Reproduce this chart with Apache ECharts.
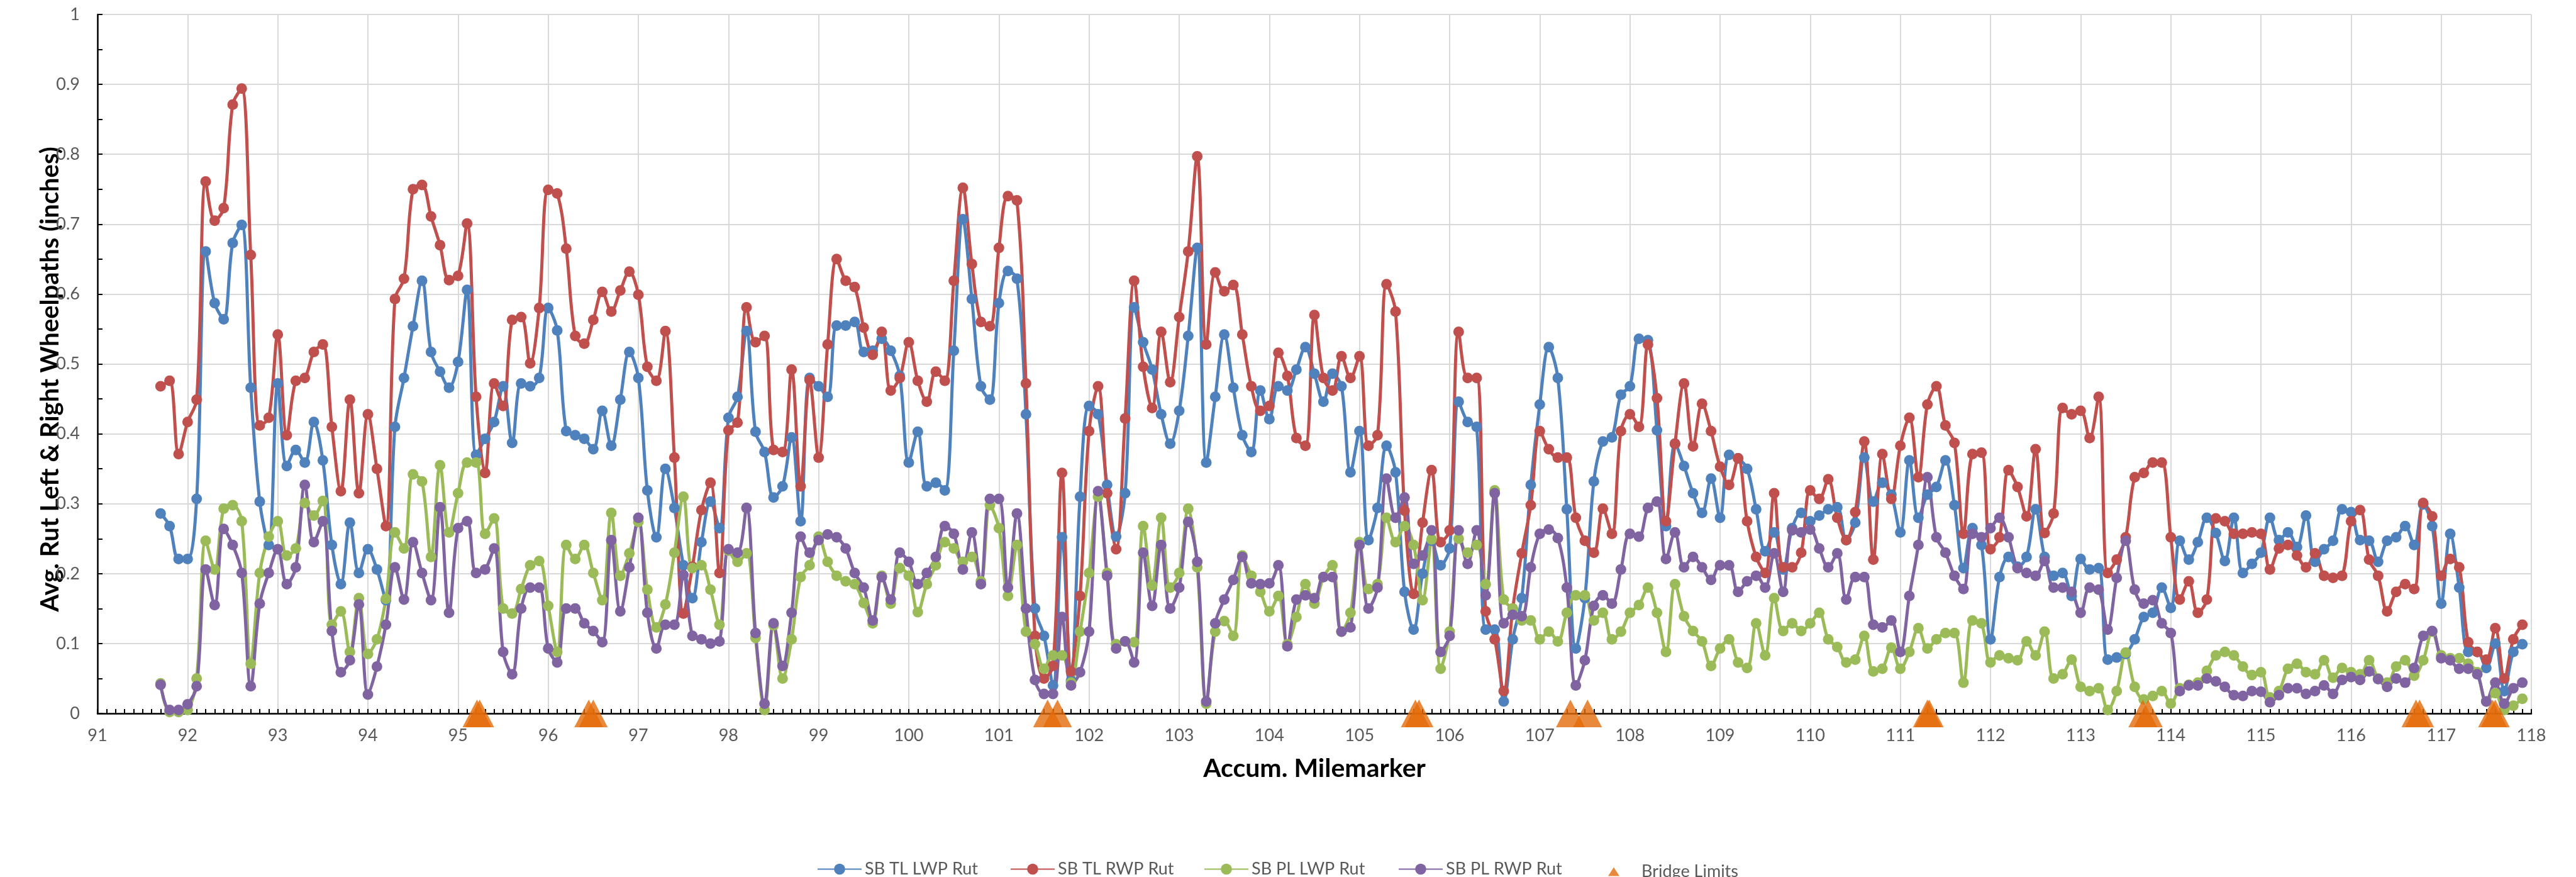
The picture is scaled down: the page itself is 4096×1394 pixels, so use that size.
<!DOCTYPE html>
<html>
<head>
<meta charset="utf-8">
<title>SB Rut by Milemarker</title>
<script src="https://cdn.jsdelivr.net/npm/echarts@6/dist/echarts.min.js"></script>
<style>
  html, body { margin: 0; padding: 0; background: #fff; }
  #main { width: 4096px; height: 1394px; }
</style>
</head>
<body>
<div id="main"></div>
<script>
// sample milemarkers (0.1 mi)
var miles = [
  91.7, 91.8, 91.9,
  92.0, 92.1, 92.2, 92.3, 92.4, 92.5, 92.6, 92.7, 92.8, 92.9,
  93.0, 93.1, 93.2, 93.3, 93.4, 93.5, 93.6, 93.7, 93.8, 93.9,
  94.0, 94.1, 94.2, 94.3, 94.4, 94.5, 94.6, 94.7, 94.8, 94.9,
  95.0, 95.1, 95.2, 95.3, 95.4, 95.5, 95.6, 95.7, 95.8, 95.9,
  96.0, 96.1, 96.2, 96.3, 96.4, 96.5, 96.6, 96.7, 96.8, 96.9,
  97.0, 97.1, 97.2, 97.3, 97.4, 97.5, 97.6, 97.7, 97.8, 97.9,
  98.0, 98.1, 98.2, 98.3, 98.4, 98.5, 98.6, 98.7, 98.8, 98.9,
  99.0, 99.1, 99.2, 99.3, 99.4, 99.5, 99.6, 99.7, 99.8, 99.9,
  100.0, 100.1, 100.2, 100.3, 100.4, 100.5, 100.6, 100.7, 100.8, 100.9,
  101.0, 101.1, 101.2, 101.3, 101.4, 101.5, 101.6, 101.7, 101.8, 101.9,
  102.0, 102.1, 102.2, 102.3, 102.4, 102.5, 102.6, 102.7, 102.8, 102.9,
  103.0, 103.1, 103.2, 103.3, 103.4, 103.5, 103.6, 103.7, 103.8, 103.9,
  104.0, 104.1, 104.2, 104.3, 104.4, 104.5, 104.6, 104.7, 104.8, 104.9,
  105.0, 105.1, 105.2, 105.3, 105.4, 105.5, 105.6, 105.7, 105.8, 105.9,
  106.0, 106.1, 106.2, 106.3, 106.4, 106.5, 106.6, 106.7, 106.8, 106.9,
  107.0, 107.1, 107.2, 107.3, 107.4, 107.5, 107.6, 107.7, 107.8, 107.9,
  108.0, 108.1, 108.2, 108.3, 108.4, 108.5, 108.6, 108.7, 108.8, 108.9,
  109.0, 109.1, 109.2, 109.3, 109.4, 109.5, 109.6, 109.7, 109.8, 109.9,
  110.0, 110.1, 110.2, 110.3, 110.4, 110.5, 110.6, 110.7, 110.8, 110.9,
  111.0, 111.1, 111.2, 111.3, 111.4, 111.5, 111.6, 111.7, 111.8, 111.9,
  112.0, 112.1, 112.2, 112.3, 112.4, 112.5, 112.6, 112.7, 112.8, 112.9,
  113.0, 113.1, 113.2, 113.3, 113.4, 113.5, 113.6, 113.7, 113.8, 113.9,
  114.0, 114.1, 114.2, 114.3, 114.4, 114.5, 114.6, 114.7, 114.8, 114.9,
  115.0, 115.1, 115.2, 115.3, 115.4, 115.5, 115.6, 115.7, 115.8, 115.9,
  116.0, 116.1, 116.2, 116.3, 116.4, 116.5, 116.6, 116.7, 116.8, 116.9,
  117.0, 117.1, 117.2, 117.3, 117.4, 117.5, 117.6, 117.7, 117.8, 117.9
]

// SB TL LWP Rut
var tlLwp = [
  0.286, 0.268, 0.221,
  0.221, 0.307, 0.661, 0.587, 0.564, 0.673, 0.699, 0.466, 0.303, 0.241,
  0.472, 0.354, 0.377, 0.359, 0.417, 0.362, 0.241, 0.185, 0.273, 0.201,
  0.235, 0.206, 0.162, 0.410, 0.480, 0.554, 0.619, 0.517, 0.489, 0.466,
  0.503, 0.606, 0.370, 0.393, 0.417, 0.468, 0.387, 0.472, 0.468, 0.480,
  0.580, 0.548, 0.404, 0.398, 0.393, 0.378, 0.433, 0.383, 0.449, 0.517,
  0.480, 0.319, 0.252, 0.350, 0.294, 0.212, 0.165, 0.245, 0.303, 0.265,
  0.423, 0.453, 0.547, 0.403, 0.374, 0.309, 0.325, 0.395, 0.275, 0.480,
  0.468, 0.453, 0.555, 0.555, 0.560, 0.517, 0.519, 0.536, 0.519, 0.483,
  0.359, 0.403, 0.325, 0.330, 0.319, 0.519, 0.707, 0.593, 0.468, 0.449,
  0.587, 0.633, 0.622, 0.428, 0.150, 0.111, 0.040, 0.252, 0.047, 0.310,
  0.440, 0.428, 0.327, 0.253, 0.315, 0.581, 0.531, 0.492, 0.428, 0.386,
  0.433, 0.540, 0.666, 0.359, 0.453, 0.542, 0.466, 0.398, 0.374, 0.462,
  0.421, 0.468, 0.462, 0.492, 0.524, 0.486, 0.446, 0.486, 0.468, 0.345,
  0.404, 0.248, 0.294, 0.383, 0.345, 0.174, 0.120, 0.200, 0.247, 0.212,
  0.236, 0.446, 0.417, 0.410, 0.120, 0.120, 0.017, 0.106, 0.165, 0.327,
  0.442, 0.524, 0.480, 0.292, 0.093, 0.165, 0.332, 0.389, 0.395, 0.456,
  0.468, 0.536, 0.534, 0.405, 0.268, 0.386, 0.354, 0.315, 0.287, 0.336,
  0.280, 0.370, 0.365, 0.350, 0.292, 0.232, 0.259, 0.206, 0.265, 0.287,
  0.275, 0.283, 0.292, 0.295, 0.248, 0.273, 0.366, 0.303, 0.330, 0.313,
  0.259, 0.362, 0.280, 0.313, 0.324, 0.362, 0.298, 0.208, 0.265, 0.241,
  0.106, 0.195, 0.224, 0.210, 0.224, 0.292, 0.224, 0.197, 0.201, 0.168,
  0.221, 0.206, 0.208, 0.077, 0.080, 0.085, 0.106, 0.138, 0.144, 0.180,
  0.151, 0.247, 0.220, 0.245, 0.280, 0.258, 0.218, 0.280, 0.201, 0.214,
  0.230, 0.280, 0.248, 0.259, 0.238, 0.283, 0.217, 0.235, 0.247, 0.292,
  0.288, 0.248, 0.247, 0.217, 0.247, 0.252, 0.268, 0.241, 0.299, 0.268,
  0.157, 0.257, 0.180, 0.088, 0.088, 0.065, 0.100, 0.032, 0.088, 0.099
]

// SB TL RWP Rut
var tlRwp = [
  0.468, 0.476, 0.371,
  0.417, 0.449, 0.761, 0.705, 0.723, 0.871, 0.894, 0.656, 0.412, 0.423,
  0.542, 0.398, 0.476, 0.480, 0.517, 0.528, 0.410, 0.318, 0.449, 0.315,
  0.428, 0.350, 0.268, 0.593, 0.622, 0.750, 0.756, 0.711, 0.670, 0.620,
  0.626, 0.701, 0.453, 0.344, 0.472, 0.440, 0.563, 0.567, 0.501, 0.580,
  0.749, 0.744, 0.665, 0.540, 0.529, 0.563, 0.603, 0.575, 0.605, 0.632,
  0.599, 0.496, 0.476, 0.547, 0.366, 0.143, 0.210, 0.291, 0.330, 0.201,
  0.405, 0.416, 0.581, 0.531, 0.540, 0.377, 0.374, 0.492, 0.325, 0.477,
  0.366, 0.528, 0.650, 0.619, 0.610, 0.552, 0.513, 0.546, 0.462, 0.480,
  0.531, 0.476, 0.446, 0.489, 0.476, 0.619, 0.752, 0.643, 0.560, 0.554,
  0.666, 0.740, 0.734, 0.472, 0.111, 0.050, 0.068, 0.344, 0.060, 0.168,
  0.404, 0.468, 0.315, 0.235, 0.422, 0.619, 0.496, 0.437, 0.546, 0.474,
  0.567, 0.661, 0.797, 0.528, 0.631, 0.604, 0.613, 0.542, 0.468, 0.433,
  0.440, 0.516, 0.483, 0.394, 0.383, 0.570, 0.480, 0.462, 0.511, 0.480,
  0.511, 0.383, 0.398, 0.614, 0.575, 0.290, 0.171, 0.273, 0.348, 0.245,
  0.262, 0.546, 0.480, 0.480, 0.146, 0.106, 0.032, 0.150, 0.229, 0.298,
  0.404, 0.378, 0.366, 0.366, 0.280, 0.247, 0.230, 0.293, 0.257, 0.404,
  0.428, 0.410, 0.528, 0.451, 0.275, 0.386, 0.472, 0.382, 0.443, 0.404,
  0.353, 0.327, 0.365, 0.275, 0.224, 0.201, 0.315, 0.209, 0.209, 0.230,
  0.319, 0.307, 0.335, 0.280, 0.248, 0.288, 0.389, 0.220, 0.371, 0.307,
  0.383, 0.423, 0.338, 0.442, 0.468, 0.412, 0.387, 0.257, 0.371, 0.373,
  0.235, 0.252, 0.348, 0.324, 0.282, 0.378, 0.258, 0.286, 0.437, 0.428,
  0.433, 0.394, 0.453, 0.201, 0.220, 0.252, 0.338, 0.344, 0.359, 0.359,
  0.252, 0.163, 0.189, 0.144, 0.163, 0.279, 0.275, 0.257, 0.257, 0.259,
  0.257, 0.206, 0.236, 0.241, 0.226, 0.209, 0.229, 0.197, 0.194, 0.197,
  0.275, 0.291, 0.220, 0.197, 0.146, 0.174, 0.185, 0.178, 0.301, 0.282,
  0.197, 0.221, 0.209, 0.102, 0.088, 0.077, 0.122, 0.050, 0.106, 0.127
]

// SB PL LWP Rut
var plLwp = [
  0.043, 0.002, 0.002,
  0.005, 0.050, 0.247, 0.206, 0.293, 0.298, 0.275, 0.071, 0.201, 0.253,
  0.275, 0.226, 0.236, 0.301, 0.283, 0.304, 0.127, 0.146, 0.088, 0.165,
  0.085, 0.106, 0.164, 0.259, 0.236, 0.342, 0.332, 0.224, 0.355, 0.259,
  0.315, 0.359, 0.359, 0.257, 0.279, 0.150, 0.143, 0.178, 0.212, 0.218,
  0.154, 0.088, 0.241, 0.221, 0.241, 0.201, 0.162, 0.287, 0.197, 0.229,
  0.274, 0.177, 0.123, 0.156, 0.230, 0.310, 0.208, 0.212, 0.177, 0.127,
  0.233, 0.217, 0.229, 0.108, 0.005, 0.126, 0.050, 0.106, 0.195, 0.212,
  0.253, 0.217, 0.197, 0.189, 0.185, 0.158, 0.129, 0.197, 0.157, 0.208,
  0.197, 0.145, 0.185, 0.212, 0.245, 0.236, 0.217, 0.224, 0.189, 0.298,
  0.265, 0.168, 0.241, 0.117, 0.099, 0.064, 0.083, 0.083, 0.044, 0.117,
  0.201, 0.310, 0.201, 0.099, 0.103, 0.102, 0.268, 0.183, 0.280, 0.180,
  0.201, 0.293, 0.209, 0.014, 0.117, 0.132, 0.111, 0.226, 0.197, 0.174,
  0.146, 0.168, 0.099, 0.138, 0.185, 0.157, 0.195, 0.212, 0.117, 0.144,
  0.245, 0.178, 0.185, 0.280, 0.245, 0.268, 0.241, 0.162, 0.249, 0.064,
  0.117, 0.250, 0.230, 0.241, 0.185, 0.319, 0.163, 0.150, 0.133, 0.133,
  0.106, 0.117, 0.103, 0.144, 0.169, 0.169, 0.133, 0.144, 0.106, 0.117,
  0.144, 0.155, 0.180, 0.144, 0.088, 0.185, 0.139, 0.118, 0.103, 0.068,
  0.093, 0.106, 0.073, 0.065, 0.129, 0.083, 0.165, 0.118, 0.129, 0.118,
  0.129, 0.144, 0.106, 0.095, 0.073, 0.077, 0.111, 0.060, 0.064, 0.094,
  0.064, 0.088, 0.122, 0.093, 0.106, 0.115, 0.115, 0.044, 0.133, 0.129,
  0.073, 0.083, 0.079, 0.076, 0.103, 0.083, 0.117, 0.050, 0.056, 0.077,
  0.038, 0.032, 0.036, 0.005, 0.032, 0.087, 0.038, 0.020, 0.025, 0.032,
  0.014, 0.036, 0.041, 0.044, 0.061, 0.083, 0.088, 0.083, 0.067, 0.055,
  0.059, 0.023, 0.032, 0.064, 0.071, 0.059, 0.056, 0.076, 0.051, 0.065,
  0.059, 0.056, 0.076, 0.050, 0.044, 0.067, 0.076, 0.054, 0.076, 0.117,
  0.083, 0.079, 0.079, 0.071, 0.059, 0.017, 0.029, 0.005, 0.011, 0.021
]

// SB PL RWP Rut
var plRwp = [
  0.041, 0.005, 0.005,
  0.013, 0.039, 0.206, 0.155, 0.264, 0.241, 0.201, 0.039, 0.157, 0.201,
  0.235, 0.185, 0.209, 0.327, 0.245, 0.275, 0.118, 0.059, 0.076, 0.156,
  0.027, 0.067, 0.127, 0.209, 0.163, 0.245, 0.201, 0.162, 0.295, 0.144,
  0.265, 0.275, 0.201, 0.206, 0.236, 0.088, 0.056, 0.150, 0.180, 0.180,
  0.093, 0.073, 0.150, 0.150, 0.129, 0.118, 0.102, 0.248, 0.146, 0.209,
  0.280, 0.144, 0.093, 0.127, 0.127, 0.198, 0.111, 0.106, 0.100, 0.103,
  0.235, 0.230, 0.294, 0.115, 0.014, 0.129, 0.068, 0.144, 0.253, 0.230,
  0.248, 0.256, 0.252, 0.236, 0.201, 0.180, 0.133, 0.195, 0.163, 0.230,
  0.217, 0.185, 0.201, 0.224, 0.268, 0.257, 0.206, 0.259, 0.185, 0.307,
  0.307, 0.180, 0.286, 0.150, 0.048, 0.028, 0.028, 0.138, 0.040, 0.059,
  0.117, 0.318, 0.197, 0.093, 0.103, 0.073, 0.230, 0.154, 0.241, 0.150,
  0.180, 0.274, 0.217, 0.017, 0.129, 0.163, 0.191, 0.224, 0.186, 0.185,
  0.186, 0.212, 0.096, 0.163, 0.169, 0.165, 0.195, 0.195, 0.117, 0.123,
  0.241, 0.150, 0.180, 0.336, 0.280, 0.309, 0.214, 0.226, 0.262, 0.088,
  0.111, 0.262, 0.214, 0.262, 0.169, 0.315, 0.129, 0.141, 0.139, 0.209,
  0.257, 0.263, 0.251, 0.180, 0.040, 0.076, 0.154, 0.169, 0.157, 0.206,
  0.257, 0.253, 0.294, 0.303, 0.221, 0.259, 0.209, 0.224, 0.209, 0.191,
  0.212, 0.212, 0.174, 0.189, 0.197, 0.180, 0.229, 0.174, 0.262, 0.259,
  0.263, 0.236, 0.209, 0.229, 0.163, 0.195, 0.195, 0.127, 0.123, 0.133,
  0.088, 0.168, 0.241, 0.338, 0.252, 0.230, 0.197, 0.178, 0.257, 0.252,
  0.265, 0.280, 0.252, 0.208, 0.201, 0.197, 0.218, 0.180, 0.180, 0.174,
  0.144, 0.180, 0.177, 0.120, 0.194, 0.247, 0.177, 0.157, 0.162, 0.129,
  0.115, 0.032, 0.040, 0.040, 0.050, 0.046, 0.038, 0.026, 0.025, 0.032,
  0.031, 0.016, 0.026, 0.036, 0.036, 0.028, 0.032, 0.040, 0.028, 0.048,
  0.052, 0.048, 0.060, 0.049, 0.038, 0.050, 0.044, 0.065, 0.111, 0.118,
  0.079, 0.076, 0.064, 0.064, 0.056, 0.017, 0.044, 0.014, 0.036, 0.044
]

// bridge start / end milemarkers
var bridgeMiles = [
  95.21, 95.24, 96.45, 96.50, 101.54, 101.65, 105.62, 105.66, 107.34,
  107.53, 111.30, 111.32, 113.69, 113.75, 116.72, 116.76, 117.57, 117.60
]

var seriesNames = ['SB TL LWP Rut', 'SB TL RWP Rut', 'SB PL LWP Rut', 'SB PL RWP Rut', 'Bridge Limits']
var colors = ['#4f81bd', '#c0504d', '#9bbb59', '#8064a2', '#e46c0a']
var legendLeft = [1294, 1601, 1909, 2218, 2552]

var FONT = 'Lato, "Open Sans", sans-serif'

function pairs(values) {
  return miles.map(function (m, i) { return [m, values[i]] })
}

function rutSeries(index, values) {
  return {
    name: seriesNames[index],
    type: 'line',
    data: pairs(values),
    smooth: 0.35,
    clip: false,
    symbol: 'circle',
    symbolSize: 17,
    showAllSymbol: true,
    lineStyle: { width: 5, color: colors[index] },
    itemStyle: { color: colors[index], borderWidth: 0 }
  }
}

var chart = echarts.init(document.getElementById('main'), null, { renderer: 'canvas' })

var legends = seriesNames.map(function (name, i) {
  var isBridge = i === 4
  return {
    data: [name],
    left: legendLeft[i],
    top: isBridge ? 1367 : 1363,
    itemWidth: isBridge ? 18 : 70,
    itemHeight: isBridge ? 14 : 22,
    itemGap: 0,
    textStyle: {
      fontFamily: FONT,
      fontSize: 27,
      color: '#595959',
      // the triangle sits in a wider slot in the reference legend
      padding: isBridge ? [0, 0, 0, 30] : 0
    }
  }
})

var option = {
  animation: false,
  backgroundColor: '#fff',
  textStyle: { fontFamily: FONT },
  legend: legends,
  grid: { left: 155, right: 71, top: 23, bottom: 260, containLabel: false },
  xAxis: {
    type: 'value',
    min: 91,
    max: 118,
    interval: 1,
    name: 'Accum. Milemarker',
    nameLocation: 'middle',
    nameGap: 67,
    nameTextStyle: { fontFamily: FONT, fontSize: 41, fontWeight: 'bold', color: '#000' },
    axisLine: { onZero: false, lineStyle: { color: '#000', width: 2.5 } },
    axisTick: { show: true, inside: true, length: 7, lineStyle: { color: '#000', width: 2 } },
    minorTick: { show: true, splitNumber: 10, length: 7, lineStyle: { color: '#000', width: 2 } },
    splitLine: { show: true, lineStyle: { color: '#d9d9d9', width: 2 } },
    axisLabel: { color: '#595959', fontSize: 27, margin: 22, fontFamily: FONT }
  },
  yAxis: {
    type: 'value',
    min: 0,
    max: 1,
    interval: 0.1,
    axisLine: { show: true, lineStyle: { color: '#000', width: 2.5 } },
    axisTick: { show: true, inside: true, length: 8, lineStyle: { color: '#000', width: 2 } },
    minorTick: { show: true, splitNumber: 2, length: 8, lineStyle: { color: '#000', width: 2 } },
    splitLine: { show: true, lineStyle: { color: '#d9d9d9', width: 2 } },
    axisLabel: { color: '#595959', fontSize: 27, margin: 28, fontFamily: FONT }
  },
  graphic: [
    {
      type: 'text',
      x: 80,
      y: 603,
      rotation: Math.PI / 2,
      style: {
        text: 'Avg. Rut Left & Right Wheelpaths (inches)',
        fontFamily: FONT,
        fontSize: 40,
        fontWeight: 'bold',
        fill: '#000',
        align: 'center',
        verticalAlign: 'middle'
      }
    }
  ],
  series: [
    rutSeries(0, tlLwp),
    rutSeries(1, tlRwp),
    rutSeries(2, plLwp),
    rutSeries(3, plRwp),
    {
      name: seriesNames[4],
      type: 'scatter',
      data: bridgeMiles.map(function (m) { return [m, 0] }),
      symbol: 'triangle',
      symbolSize: [46, 44],
      clip: false,
      z: 5,
      itemStyle: { color: colors[4] }
    }
  ]
}

chart.setOption(option, true)
</script>
</body>
</html>
